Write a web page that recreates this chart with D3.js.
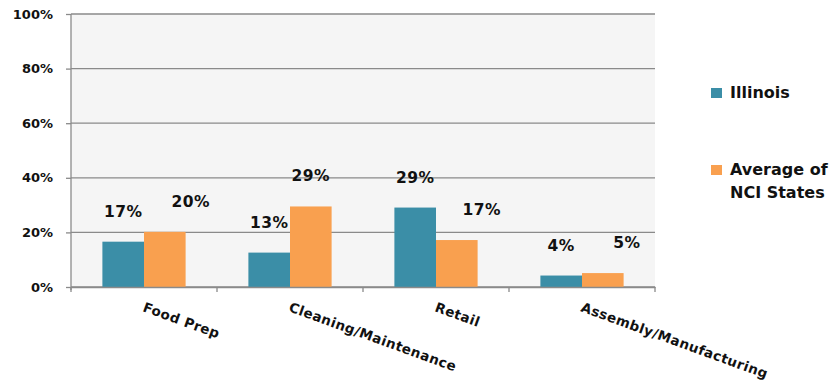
<!DOCTYPE html>
<html>
<head>
<meta charset="utf-8">
<script src="https://cdn.jsdelivr.net/npm/d3@7"></script>
<style>
  body { margin: 0; background: #fff; }
  text { font-family: "DejaVu Sans", sans-serif; font-weight: bold; fill: #111; }
</style>
</head>
<body>
<div id="chart"></div>
<script>
var categories = ["Food Prep", "Cleaning/Maintenance", "Retail", "Assembly/Manufacturing"];
var seriesNames = ["Illinois", "Average of NCI States"];
var illinois = [16.6, 12.6, 29.1, 4.2];
var nciAverage = [20.2, 29.5, 17.2, 5.1];
var illinoisLabels = ["17%", "13%", "29%", "4%"];
var nciLabels = ["20%", "29%", "17%", "5%"];
var yTicks = [0, 20, 40, 60, 80, 100];

var width = 835;
var height = 387;
var colors = ["#3b8ea7", "#f9a04f"];
var margin = { top: 14, left: 71, right: 180, bottom: 100 };
var plotW = 655 - margin.left;
var plotH = 287 - margin.top;

var svg = d3.select("#chart").append("svg")
  .attr("width", width)
  .attr("height", height);

var g = svg.append("g")
  .attr("transform", "translate(" + margin.left + "," + margin.top + ")");

var x = d3.scaleBand().domain(categories).range([0, plotW]);
var x1 = d3.scaleBand().domain([0, 1]).range([0, x.bandwidth() * 0.57])
var y = d3.scaleLinear().domain([0, 100]).range([plotH, 0]);

// plot background
g.append("rect")
  .attr("width", plotW)
  .attr("height", plotH)
  .attr("fill", "#f5f5f5");

// gridlines
g.selectAll(".grid")
  .data(yTicks)
  .enter()
  .append("line")
  .attr("x1", 0)
  .attr("x2", plotW)
  .attr("y1", d => y(d))
  .attr("y2", d => y(d))
  .attr("stroke", "#8a8a8a")
  .attr("stroke-width", 1.3);

// y axis
var yAxis = g.append("g")
  .call(d3.axisLeft(y).tickValues(yTicks).tickFormat(d => d + "%").tickSize(5).tickPadding(13));
yAxis.select(".domain").attr("stroke", "#8a8a8a").attr("stroke-width", 1.3)
  .attr("d", "M0," + (plotH + 3) + "V0");
yAxis.selectAll(".tick line").attr("stroke", "#8a8a8a").attr("stroke-width", 1.3);
yAxis.selectAll("text").style("font-size", "13px").attr("fill", "#111")
  .style("font-family", "DejaVu Sans").style("font-weight", "bold");

// bars
var data = categories.map((c, i) => ({ cat: c, vals: [illinois[i], nciAverage[i]], labels: [illinoisLabels[i], nciLabels[i]] }));
var labelShift = [[0, 26], [0, 0], [0, 25], [0, 24]];

var groups = g.selectAll(".cat")
  .data(data)
  .enter()
  .append("g")
  .attr("transform", d => "translate(" + (x(d.cat) + (x.bandwidth() - x1.range()[1]) / 2) + ",0)");

groups.selectAll("rect")
  .data(d => d.vals)
  .enter()
  .append("rect")
  .attr("x", (d, i) => x1(i))
  .attr("width", x1.bandwidth())
  .attr("y", d => y(d))
  .attr("height", d => plotH - y(d))
  .attr("fill", (d, i) => colors[i]);

groups.selectAll(".lbl")
  .data((d, ci) => d.vals.map((v, i) => ({ v: v, t: d.labels[i], i: i, ci: ci })))
  .enter()
  .append("text")
  .attr("text-anchor", "middle")
  .attr("x", d => x1(d.i) + x1.bandwidth() / 2 + labelShift[d.ci][d.i])
  .attr("y", d => y(d.v) - 25)
  .style("font-size", "15.5px")
  .style("letter-spacing", "0.5px")
  .text(d => d.t);

// x axis
var xAxis = g.append("g")
  .attr("transform", "translate(0," + plotH + ")")
  .call(d3.axisBottom(x).tickSize(0).tickFormat(""));
xAxis.select(".domain").attr("stroke", "#8a8a8a").attr("stroke-width", 1.3);
xAxis.selectAll(".tick").remove();

g.selectAll(".xtick")
  .data(d3.range(categories.length + 1))
  .enter()
  .append("line")
  .attr("x1", d => d * x.bandwidth())
  .attr("x2", d => d * x.bandwidth())
  .attr("y1", plotH)
  .attr("y2", plotH + 5)
  .attr("stroke", "#8a8a8a")
  .attr("stroke-width", 1.3);

g.selectAll(".xlabel")
  .data(categories)
  .enter()
  .append("text")
  .attr("transform", d => "translate(" + (x(d) + x.bandwidth() / 2 - 2) + "," + (plotH + 24) + ") rotate(20)")
  .style("font-size", "13.5px")
  .style("letter-spacing", "0.4px")
  .text(d => d);

// legend
var legend = svg.append("g").attr("transform", "translate(711,0)");
var legendY = [98, 175];
legend.selectAll("rect")
  .data(seriesNames)
  .enter()
  .append("rect")
  .attr("x", 0)
  .attr("y", (d, i) => legendY[i] - 10)
  .attr("width", 11)
  .attr("height", 10)
  .attr("fill", (d, i) => colors[i]);

legend.selectAll("text")
  .data([["Illinois"], ["Average of", "NCI States"]])
  .enter()
  .append("text")
  .attr("x", 19)
  .attr("y", (d, i) => legendY[i])
  .style("font-size", "16px")
  .selectAll("tspan")
  .data(d => d)
  .enter()
  .append("tspan")
  .attr("x", 19)
  .attr("dy", (d, i) => i === 0 ? 0 : 23)
  .text(d => d);
</script>
</body>
</html>
